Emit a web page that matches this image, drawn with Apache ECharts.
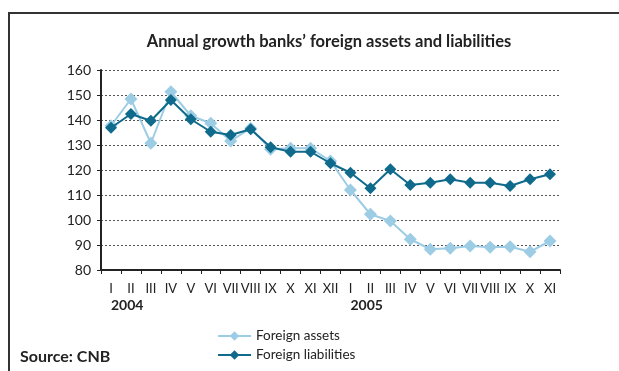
<!DOCTYPE html>
<html>
<head>
<meta charset="utf-8">
<script src="https://cdn.jsdelivr.net/npm/echarts@6/dist/echarts.min.js"></script>
<style>
  html, body { margin: 0; padding: 0; background: #fff; }
  #chart { width: 619px; height: 371px; }
</style>
</head>
<body>
<div id="chart"></div>
<script>
// Months, Jan 2004 – Nov 2005
const months = ['I','II','III','IV','V','VI','VII','VIII','IX','X','XI','XII',
                'I','II','III','IV','V','VI','VII','VIII','IX','X','XI'];
// Year captions under the first month of each year
const years = ['2004','','','','','','','','','','','',
               '2005','','','','','','','','','',''];

// Annual growth (index) of banks' foreign assets
const foreignAssets = [137.7, 148.4, 130.7, 151.3, 141.7, 138.7, 131.6, 136.7, 128.3, 128.7, 128.7, 123.6,
                       112.0, 102.3, 99.6, 92.3, 88.3, 88.7, 89.6, 89.1, 89.3, 87.3, 91.6];
// Annual growth (index) of banks' foreign liabilities
const foreignLiabilities = [136.9, 142.4, 139.7, 148.0, 140.3, 135.3, 134.0, 136.3, 129.1, 127.3, 127.3, 122.7,
                            118.9, 112.7, 120.3, 114.0, 114.9, 116.3, 114.9, 114.9, 113.6, 116.3, 118.3];

const yTicks = { min: 80, max: 160, interval: 10 };

const textFont = 'Lato, "Open Sans", sans-serif';
const lightBlue = '#9dcde5';
const darkBlue = '#0f6a8c';

const chart = echarts.init(document.getElementById('chart'), null, { renderer: 'canvas' });

chart.setOption({
  animation: false,
  backgroundColor: '#fff',
  textStyle: { fontFamily: textFont },
  title: {
    text: 'Annual growth banks\u2019 foreign assets and liabilities',
    left: 324, top: 28, textAlign: 'center',
    textStyle: { fontFamily: textFont, fontSize: 16.5, fontWeight: 'bold', color: '#222' }
  },
  grid: { left: 101, right: 59, top: 70, bottom: 101, containLabel: false },
  xAxis: [{
    type: 'category',
    data: months,
    boundaryGap: true,
    axisLine: { lineStyle: { color: '#222', width: 2 } },
    axisTick: { show: true, length: 4, lineStyle: { color: '#222', width: 1 } },
    axisLabel: { color: '#222', fontSize: 13, margin: 12, interval: 0, fontFamily: textFont },
    splitLine: { show: false }
  }, {
    type: 'category',
    data: years,
    position: 'bottom',
    offset: 16,
    boundaryGap: true,
    axisLine: { show: false },
    axisTick: { show: false },
    axisLabel: { color: '#222', fontSize: 14, fontWeight: 'bold', margin: 12, interval: 0,
                 align: 'left', fontFamily: textFont,
                 formatter: v => v ? '{y|' + v + '}' : '',
                 rich: { y: { fontSize: 14, fontWeight: 'bold', color: '#222', padding: [0, 5, 0, 0] } } },
    splitLine: { show: false }
  }],
  yAxis: {
    type: 'value',
    min: yTicks.min, max: yTicks.max, interval: yTicks.interval,
    axisLine: { show: true, lineStyle: { color: '#222', width: 2 } },
    axisTick: { show: true, length: 4, lineStyle: { color: '#222', width: 1 } },
    axisLabel: { color: '#222', fontSize: 14, margin: 10, fontFamily: textFont },
    splitLine: { show: true, lineStyle: { color: '#555', type: [2, 2], width: 1 } }
  },
  legend: {
    orient: 'vertical',
    left: 212, top: 324,
    itemWidth: 33, itemHeight: 12, itemGap: 5,
    textStyle: { color: '#222', fontSize: 13.5, fontFamily: textFont },
    data: ['Foreign assets', 'Foreign liabilities']
  },
  series: [{
    name: 'Foreign assets',
    type: 'line',
    data: foreignAssets,
    symbol: 'diamond', symbolSize: 13,
    lineStyle: { color: lightBlue, width: 2 },
    itemStyle: { color: lightBlue },
    z: 2
  }, {
    name: 'Foreign liabilities',
    type: 'line',
    data: foreignLiabilities,
    symbol: 'diamond', symbolSize: 12,
    lineStyle: { color: darkBlue, width: 2 },
    itemStyle: { color: darkBlue },
    z: 3
  }],
  graphic: [{
    type: 'rect',
    shape: { x: 9, y: 13, width: 640, height: 400 },
    style: { fill: null, stroke: '#333', lineWidth: 2 },
    silent: true
  }, {
    type: 'text',
    left: 20, top: 349,
    style: { text: 'Source: CNB', fill: '#222', font: 'bold 16px ' + textFont }
  }]
});
</script>
</body>
</html>
